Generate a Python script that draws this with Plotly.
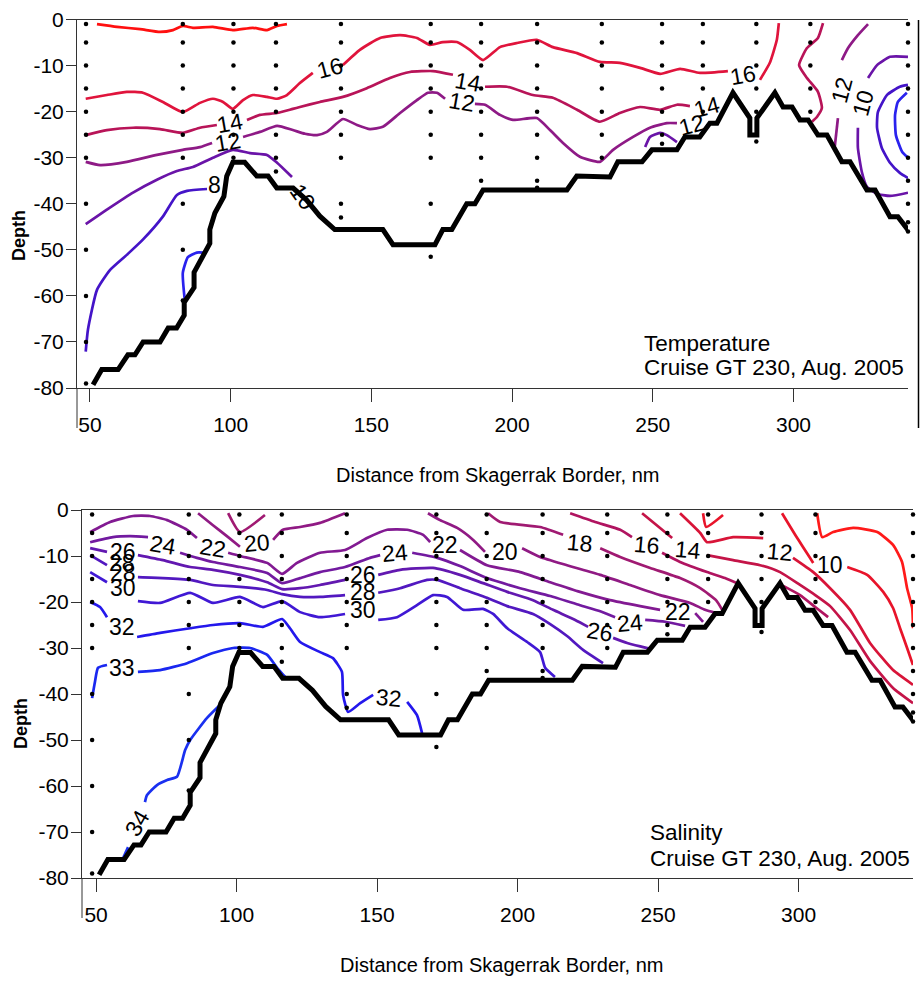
import plotly.graph_objects as go

W, H = 920, 986

# ---------------- data ----------------
x_ticks = [50, 100, 150, 200, 250, 300]
y_ticks = [0, -10, -20, -30, -40, -50, -60, -70, -80]
y_tick_text = ["0", "-10", "-20", "-30", "-40", "-50", "-60", "-70", "-80"]

station_x = [48.6, 83.0, 101.0, 116.1, 139.2, 171.1, 189.0, 208.9, 231.9, 253.3, 267.8, 286.8, 306.0, 340.7]
station_depths = [
    [-1, -5, -10, -15, -20, -25, -30, -40, -50, -60, -70, -79],
    [-1, -5, -10, -15, -20, -25, -30, -40, -50, -61],
    [-1, -5, -10, -15, -20, -25, -30],
    [-1, -5, -10, -15, -20, -25, -30, -33],
    [-1, -5, -10, -15, -20, -25, -30, -40, -43],
    [-1, -5, -10, -15, -20, -25, -30, -40, -51.5],
    [-1, -5, -10, -15, -20, -25, -30, -35],
    [-1, -5, -10, -15, -20, -25, -30, -35, -36.5],
    [-1, -5, -10, -15, -20, -25, -30],
    [-1, -5, -10, -15, -20, -25, -27],
    [-1, -5, -10, -15, -20],
    [-1, -5, -10, -15, -20, -25, -26.5],
    [-1, -5, -10, -15, -20],
    [-1, -5, -10, -15, -20, -25, -30, -35, -40, -44, -46],
]

bathy_x = [51.1, 54.2, 60.0, 63.5, 66.0, 68.9, 74.9, 77.8, 80.8, 83.5, 83.5, 87.0, 87.0, 92.6, 92.6,
           94.4, 97.6, 98.6, 100.8, 105.0, 109.3, 113.3, 116.4, 122.2, 127.0, 131.7, 137.0, 154.1,
           157.7, 172.6, 175.4, 178.6, 183.9, 186.8, 189.7, 219.5, 223.0, 234.8, 237.6, 246.2, 249.7,
           258.6, 261.4, 266.7, 270.3, 272.8, 278.5, 284.5, 284.5, 287.0, 287.0, 293.4, 296.3, 299.5,
           302.3, 305.2, 308.7, 311.9, 317.2, 320.1, 326.1, 329.0, 334.3, 337.1, 340.7]
bathy_y = [-79.3, -76.0, -76.0, -72.8, -72.8, -70.0, -70.0, -67.0, -67.0, -64.2, -61.4, -58.2, -54.9, -48.6, -45.6,
           -42.0, -38.4, -34.0, -31.0, -31.0, -34.0, -34.0, -36.6, -36.6, -39.2, -42.7, -45.6, -45.6,
           -48.9, -48.9, -45.6, -45.6, -40.0, -40.0, -37.0, -37.0, -34.0, -34.2, -30.9, -30.9, -28.3,
           -28.3, -25.5, -25.5, -22.5, -22.5, -15.9, -21.4, -25.1, -25.1, -21.4, -15.9, -19.0, -19.0,
           -21.8, -21.8, -25.1, -25.1, -30.9, -30.9, -37.0, -37.0, -42.8, -42.8, -45.7]

# ---- temperature isolines (distance nm, depth m) ----
temp_18_x = [52.5, 59.6, 67.8, 74.9, 79.5, 83.0, 86.6, 93.7, 100.8, 107.9, 112.9, 116.5, 120.0]
temp_18_y = [-1.0, -1.6, -2.1, -2.7, -2.3, -1.4, -1.8, -1.6, -2.3, -1.8, -2.3, -1.4, -1.0]

temp_16_x = [48.5, 56.0, 63.1, 68.8, 75.9, 83.0, 89.1, 93.7, 97.3, 100.8, 104.4, 107.9, 112.9, 116.5, 120.0, 124.6, 129.2, None,
             139.9, 145.9, 153.1, 160.2, 166.2, 170.8, 175.4, 180.4, 185.0, 189.7, 195.7, 201.7, 208.8, 214.5, 223.1, 231.2,
             238.3, 245.5, 252.6, 259.7, 266.8, 276.7, None,
             288.1, 291.6, 294.1, 294.8]
temp_16_y = [-17.2, -16.4, -15.7, -15.9, -17.9, -20.1, -18.1, -17.2, -17.9, -19.4, -17.5, -16.4, -16.8, -17.2, -16.4, -13.8, -11.6, None,
             -9.9, -6.6, -4.0, -3.4, -4.0, -5.5, -4.9, -4.9, -6.6, -8.8, -6.0, -5.1, -4.4, -6.0, -7.3, -9.2,
             -9.4, -10.5, -11.8, -10.7, -11.6, -11.2, None,
             -13.1, -9.4, -4.4, -0.8]

temp_14_x = [48.5, 56.0, 65.3, 74.9, 83.0, 89.1, 95.1, None,
             105.8, 110.4, 116.5, 122.1, 124.6, 131.7, 139.9, 148.4, 156.6, 163.7, 171.9, 179.0, None,
             190.4, 198.2, 207.4, 214.5, 223.1, 231.2, 238.3, 245.5, 252.6, 258.6, 263.2, None,
             310.5, 308.7, 304.8, 302.0, 304.8, 308.7, 310.1, 308.4, 306.6]
temp_14_y = [-25.1, -24.0, -23.5, -23.8, -24.6, -23.5, -22.9, None,
             -21.8, -20.7, -20.3, -19.4, -19.0, -17.9, -16.8, -14.9, -12.7, -11.4, -11.2, -12.0, None,
             -14.6, -14.6, -16.4, -17.0, -19.6, -22.2, -20.3, -19.0, -19.6, -18.5, -18.8, None,
             -0.8, -4.0, -6.2, -9.9, -12.7, -15.7, -19.2, -21.1, -22.2]

temp_12_x = [48.5, 53.6, 63.1, 73.8, 83.0, 89.1, 93.4, None,
             104.4, 110.4, 116.5, 122.1, 126.4, 130.7, 134.2, 139.9, 144.9, 149.5, 154.1, 160.2, 166.2, 170.1, 173.3, 176.2, None,
             186.8, 190.4, 195.7, 200.3, 208.8, 213.5, 218.1, 224.1, 231.2, 235.9, 243.0, 249.0, 255.0, 258.6, None,
             326.5, 322.9, 319.4, 317.2, None, 315.8, 314.7]
temp_12_y = [-30.9, -31.6, -30.9, -29.4, -28.3, -27.7, -26.8, None,
             -25.5, -24.4, -23.1, -24.0, -24.8, -25.1, -24.4, -21.6, -22.9, -23.8, -23.3, -20.3, -17.5, -15.9, -15.9, -17.2, None,
             -18.3, -18.5, -20.7, -21.8, -21.4, -24.0, -26.8, -29.8, -30.9, -28.3, -25.5, -23.5, -22.5, -22.5, None,
             -1.0, -3.4, -6.2, -8.8, None, -21.4, -27.5]

temp_10_x = [48.5, 56.0, 65.3, 73.8, 80.9, 86.6, 93.7, 100.8, 106.9, 112.9, 116.5, 121.8, None,
             247.3, 249.0, 252.6, 255.0, 258.6, None,
             340.7, 334.3, 329.7, 326.5, None, 322.9, 322.9, 324.3, 326.1, 329.5, 334.3, 340.7]
temp_10_y = [-44.4, -41.3, -37.6, -34.8, -32.9, -32.0, -30.0, -28.3, -29.0, -29.4, -31.1, -34.2, None,
             -27.7, -25.5, -24.6, -25.1, -26.6, None,
             -8.1, -8.1, -9.9, -12.7, None, -23.5, -27.9, -33.1, -36.3, -37.8, -38.3, -37.6]

temp_8_x = [48.5, 49.3, 52.5, 57.1, 63.1, 68.8, 75.9, 80.9, 84.5, 91.6, None,
            340.7, 337.8, 333.2, 330.0, 329.7, 331.4, 334.3, 337.8, 340.7]
temp_8_y = [-72.1, -67.3, -58.7, -54.4, -51.1, -47.8, -42.8, -38.1, -37.2, -36.8, None,
            -14.2, -14.6, -16.4, -20.1, -23.5, -27.9, -31.1, -33.3, -34.4]

temp_6_x = [83.8, 83.0, 84.8, 88.0, 90.2, None, 340.3, 337.1, 336.1, 336.4, 338.6, 340.7]
temp_6_y = [-61.5, -55.0, -51.6, -50.6, -50.6, None, -15.9, -17.9, -20.7, -25.1, -28.7, -30.0]

temp_label_text = ["16", "14", "12", "8", "10", "14", "12", "16", "14", "12", "12", "10"]
temp_label_x = [135.3, 99.8, 99.0, 94.4, 125.7, 184.3, 182.2, 282.1, 269.3, 263.9, 317.2, 324.7]
temp_label_y = [-10.5, -22.5, -26.6, -35.9, -38.5, -13.6, -17.9, -12.0, -19.0, -22.9, -15.3, -18.1]
temp_label_angle = [-15, -10, -10, 0, 55, 10, 10, -10, -15, -15, -75, -75]

# ---- salinity isolines ----
sal_8_x = [306.6, 308.4, 312.3, 319.4, 328.0, 333.6, 336.8, 338.6, 340.4, 340.7]
sal_8_y = [-0.7, -5.9, -4.8, -3.9, -4.8, -7.6, -11.3, -17.0, -21.3, -25.7]

sal_10_x = [294.1, 299.5, 305.2, None, 317.3, 324.4, 330.1, 333.6, 336.1, 338.6, 340.7, None, 266.0, 267.1, 273.1]
sal_10_y = [-0.7, -6.1, -11.5, None, -12.4, -14.1, -17.8, -21.3, -25.7, -30.0, -33.7, None, -0.7, -3.7, -1.1]

sal_12_x = [257.8, 265.0, 267.4, 276.7, 287.4, None, 298.0, 305.2, 311.2, 318.3, 325.4, 333.6, 340.7]
sal_12_y = [-0.7, -5.0, -7.0, -5.9, -6.1, None, -10.4, -13.5, -17.0, -21.7, -28.9, -34.8, -38.0]

sal_14_x = [244.3, 250.7, 255.0, None, 267.4, 276.7, 286.3, 293.4, 300.5, 305.9, 311.2, 318.3, 325.4, 333.6, 340.7]
sal_14_y = [-0.7, -3.9, -6.1, None, -9.8, -10.9, -12.0, -13.5, -16.3, -18.5, -20.9, -26.1, -32.8, -38.7, -42.0]

sal_16_x = [218.7, 227.6, 236.5, 240.7, None, 251.4, 257.8, 267.4, 273.8, 278.1, None, 294.5, 300.5, 305.9, 310.5]
sal_16_y = [-0.7, -2.6, -4.3, -5.9, None, -9.3, -11.3, -13.5, -14.8, -15.9, None, -16.5, -18.5, -21.1, -23.3]

sal_18_x = [189.5, 193.8, 208.0, 216.2, None, 229.4, 236.5, 247.2, 257.8, 265.0, 270.6, 272.8, None, 97.0, 101.2, 110.1]
sal_18_y = [-0.7, -2.6, -3.7, -5.4, None, -8.3, -10.2, -12.6, -14.8, -17.0, -19.6, -21.7, None, -0.7, -4.8, -1.1]

sal_20_x = [86.3, 91.6, 97.0, 101.2, None, 113.0, 116.5, 122.6, 129.7, 138.6, None,
            168.1, 172.4, 178.5, 184.2, 188.4, None, 201.6, 208.0, 217.6, 229.4, 240.0, 250.7, 261.4, 266.7, 270.6]
sal_20_y = [-0.7, -3.3, -5.9, -8.0, None, -6.5, -4.3, -3.7, -2.8, -0.7, None,
            -0.7, -2.2, -3.9, -6.5, -9.1, None, -8.3, -10.2, -12.0, -14.1, -16.3, -18.5, -20.2, -21.7, -22.4]

sal_22_x = [47.9, 55.0, 63.2, 69.2, 75.3, 82.4, 85.9, None,
            97.0, 101.2, 110.9, 116.2, 121.5, 129.7, 138.6, 146.4, 153.6, 160.7, 166.4, 168.9, None,
            179.5, 189.1, 200.9, 211.6, 222.2, 232.9, 243.6, 250.7, None, 263.2, 266.0]
sal_22_y = [-4.8, -2.6, -1.3, -1.3, -2.2, -4.3, -6.1, None,
            -9.3, -10.0, -11.5, -13.9, -11.5, -9.3, -8.7, -6.1, -4.3, -4.3, -5.4, -7.0, None,
            -8.7, -12.0, -13.5, -15.7, -17.8, -19.6, -20.9, -21.7, None, -22.4, -24.3]

sal_24_x = [47.9, 56.0, 62.1, 68.5, None,
            79.9, 85.9, 91.6, 101.2, 110.9, 116.2, 122.6, 129.7, 138.6, 147.5, 151.1, None,
            162.5, 171.4, 179.5, 189.1, 200.9, 211.6, 222.2, 229.4, 234.7, None, 245.4, 252.5, 259.6]
sal_24_y = [-7.0, -5.9, -5.7, -5.9, None,
            -9.3, -10.4, -11.3, -12.4, -13.7, -15.9, -14.8, -13.5, -12.4, -10.4, -9.8, None,
            -9.3, -10.4, -12.2, -14.8, -17.0, -18.7, -20.7, -22.0, -23.3, None, -23.9, -24.3, -25.2]

sal_26_x = [47.9, 53.9, None,
            64.9, 73.8, 83.5, 91.6, 101.2, 110.9, 116.2, 122.6, 129.7, 138.6, None,
            150.4, 158.2, 169.9, 179.5, 187.7, 196.3, 205.5, 212.6, 220.5, 225.1, None,
            234.0, 239.0, 244.7, 247.2]
sal_26_y = [-8.3, -9.1, None,
            -9.8, -10.9, -12.4, -13.0, -14.1, -15.7, -17.2, -17.0, -16.3, -15.2, None,
            -14.1, -13.0, -12.6, -14.1, -15.9, -17.8, -19.6, -21.7, -23.9, -25.4, None,
            -27.8, -28.9, -29.8, -30.2]

sal_28_x = [47.9, 53.9, None,
            64.9, 73.8, 83.5, 91.6, 101.2, 110.9, 116.2, 122.6, 129.7, 138.6, None,
            150.4, 158.2, 167.8, 171.4, 179.5, 189.1, 196.3, 205.5, 211.6, 217.6, 223.3, 230.4]
sal_28_y = [-9.8, -12.0, None,
            -14.6, -14.8, -15.2, -16.3, -16.7, -17.4, -18.3, -18.9, -18.9, -18.5, None,
            -18.0, -17.0, -15.2, -15.2, -17.0, -19.1, -20.9, -22.6, -24.8, -27.4, -30.4, -33.3]

sal_30_x = [47.9, 53.9, None,
            64.9, 72.8, 83.5, 91.6, 101.2, 109.4, 116.2, 122.6, 129.7, 138.6, None,
            150.4, 157.1, 164.2, 169.9, 174.9, 180.6, 187.7, 191.3, 196.3, 203.4, 208.0, 209.8, 213.3]
sal_30_y = [-13.5, -15.7, None,
            -19.8, -20.2, -18.0, -20.2, -18.9, -21.1, -19.8, -22.2, -23.3, -22.6, None,
            -23.9, -23.3, -20.7, -18.5, -18.9, -21.7, -21.5, -22.6, -25.7, -28.7, -30.9, -34.3, -36.3]

sal_32_x = [47.9, 51.4, 53.9, None,
            64.6, 72.8, 83.5, 91.6, 101.2, 109.4, 116.2, 119.0, 122.6, 129.7, 134.3, 137.5, 137.9, 139.7, 144.0, 148.6, None,
            160.7, 164.2, 166.0]
sal_32_y = [-20.0, -21.1, -23.3, None,
            -27.6, -26.7, -25.7, -25.0, -24.6, -25.4, -23.7, -25.7, -28.7, -30.9, -32.2, -35.2, -40.2, -43.9, -42.0, -40.2, None,
            -41.7, -44.6, -48.5]

sal_33_x = [48.6, 49.6, 50.7, 53.9, None, 64.9, 72.8, 82.4, 91.6, 98.8, 104.8, 110.9, 114.4, 117.3]
sal_33_y = [-40.9, -37.4, -34.3, -33.7, None, -35.2, -34.8, -33.3, -31.1, -30.0, -30.0, -31.5, -34.3, -36.3]

sal_34_x = [59.6, 61.4, None, 67.4, 68.1, 71.7, 75.3, 78.8, 81.7, 83.5, 89.5, 94.1]
sal_34_y = [-75.7, -73.3, None, -63.5, -62.0, -59.8, -58.7, -58.0, -52.2, -50.0, -45.2, -42.4]

sal_label_text = ["26", "28", "28", "30", "32", "33", "24", "22", "20", "26", "28", "30", "24", "22", "32",
                  "20", "18", "16", "14", "12", "10", "26", "24", "22", "34"]
sal_label_x = [59.6, 59.3, 59.6, 59.6, 59.3, 59.3, 73.8, 91.6, 107.3, 145.0, 145.0, 145.0, 156.4, 174.2, 154.3,
               195.6, 222.2, 246.1, 260.7, 293.4, 311.2, 229.4, 240.0, 257.1, 64.6]
sal_label_y = [-9.1, -11.5, -13.7, -17.0, -25.4, -34.3, -7.6, -8.3, -7.2, -14.1, -17.8, -21.7, -9.3, -7.6, -40.9,
               -9.1, -7.2, -7.6, -8.7, -9.1, -12.0, -26.5, -24.6, -22.2, -68.0]
sal_label_angle = [0, 0, 0, 0, 0, 0, 10, 10, -5, 0, 0, 0, -5, 0, 5,
                   0, 5, 5, 5, 5, 0, 10, -5, 0, -60]

# ---------------- styling ----------------
SANS = "Liberation Sans, Arial, Helvetica, sans-serif"

temp_series = [
    (temp_18_x, temp_18_y, "#ff1010"),
    (temp_16_x, temp_16_y, "#e0143c"),
    (temp_14_x, temp_14_y, "#b81458"),
    (temp_12_x, temp_12_y, "#8e1a86"),
    (temp_10_x, temp_10_y, "#6a14a8"),
    (temp_8_x, temp_8_y, "#4414c8"),
    (temp_6_x, temp_6_y, "#2a22ee"),
]
sal_series = [
    (sal_8_x, sal_8_y, "#ff1a1a"),
    (sal_10_x, sal_10_y, "#e8142a"),
    (sal_12_x, sal_12_y, "#d81438"),
    (sal_14_x, sal_14_y, "#c41448"),
    (sal_16_x, sal_16_y, "#b01460"),
    (sal_18_x, sal_18_y, "#a01a72"),
    (sal_20_x, sal_20_y, "#901a84"),
    (sal_22_x, sal_22_y, "#821a92"),
    (sal_24_x, sal_24_y, "#721aa0"),
    (sal_26_x, sal_26_y, "#6218b0"),
    (sal_28_x, sal_28_y, "#5218c0"),
    (sal_30_x, sal_30_y, "#4018d4"),
    (sal_32_x, sal_32_y, "#2418ec"),
    (sal_33_x, sal_33_y, "#1a28f0"),
    (sal_34_x, sal_34_y, "#1a30f0"),
]

fig = go.Figure()

panels = [("x", "y", temp_series), ("x2", "y2", sal_series)]
for xa, ya, series in panels:
    for xs, ys, col in series:
        fig.add_trace(go.Scatter(x=xs, y=ys, mode="lines", xaxis=xa, yaxis=ya,
                                 line=dict(color=col, width=2.7, shape="spline", smoothing=0.5),
                                 hoverinfo="skip", showlegend=False))
    fig.add_trace(go.Scatter(x=bathy_x, y=bathy_y, mode="lines", xaxis=xa, yaxis=ya,
                             line=dict(color="black", width=5),
                             hoverinfo="skip", showlegend=False))
    dots_x, dots_y = [], []
    for sx, depths in zip(station_x, station_depths):
        for d in depths:
            dots_x.append(sx)
            dots_y.append(d)
    fig.add_trace(go.Scatter(x=dots_x, y=dots_y, mode="markers", xaxis=xa, yaxis=ya,
                             marker=dict(symbol="circle", size=4.5, color="black"),
                             cliponaxis=False, hoverinfo="skip", showlegend=False))

label_font = dict(family=SANS, size=23, color="black")
annotations = []
for t, lx, ly, ang in zip(temp_label_text, temp_label_x, temp_label_y, temp_label_angle):
    annotations.append(dict(x=lx, y=ly, xref="x", yref="y", text=t, showarrow=False, textangle=ang,
                            font=label_font))
for t, lx, ly, ang in zip(sal_label_text, sal_label_x, sal_label_y, sal_label_angle):
    annotations.append(dict(x=lx, y=ly, xref="x2", yref="y2", text=t, showarrow=False, textangle=ang,
                            font=label_font))


def px(xp, yp):
    return xp / W, 1 - yp / H


def text_at(xp, yp, text, font, xanchor="center", angle=0):
    xx, yy = px(xp, yp)
    annotations.append(dict(x=xx, y=yy, xref="paper", yref="paper", text=text, showarrow=False,
                            xanchor=xanchor, yanchor="middle", textangle=angle, font=font))


title_font = dict(family=SANS, size=20, color="black")
depth_font = dict(family=SANS, size=18, color="black", weight="bold")
note_font = dict(family=SANS, size=22.5, color="black")

text_at(497, 475, "Distance from Skagerrak Border, nm", title_font)
text_at(502, 965, "Distance from Skagerrak Border, nm", title_font)
text_at(19, 236, "Depth", depth_font, angle=-90)
text_at(21, 724, "Depth", depth_font, angle=-90)
text_at(642, 343, "Temperature", note_font, xanchor="left")
text_at(642, 367, "Cruise GT 230, Aug. 2005", note_font, xanchor="left")
text_at(648, 832, "Salinity", note_font, xanchor="left")
text_at(648, 858, "Cruise GT 230, Aug. 2005", note_font, xanchor="left")

shapes = []


def vline(xp, y0p, y1p, color="#333", width=1):
    x0, ya = px(xp, y0p)
    _, yb = px(xp, y1p)
    shapes.append(dict(type="line", xref="paper", yref="paper", x0=x0, x1=x0, y0=ya, y1=yb,
                       line=dict(color=color, width=width)))


vline(77, 388, 428)
vline(82, 878, 918)
vline(918.5, 20, 428, color="black", width=1.5)

axis_font = dict(family=SANS, size=21, color="black")
common_x = dict(showline=True, linecolor="#333", linewidth=1, mirror=True, ticks="outside", ticklen=13,
                tickwidth=1, tickcolor="#333", tickvals=x_ticks, tickfont=axis_font, showgrid=False,
                zeroline=False, automargin=False, ticklabelstandoff=5)
common_y = dict(showline=True, linecolor="#333", linewidth=1, ticks="outside", ticklen=10, tickwidth=1,
                tickcolor="#333", tickvals=y_ticks, ticktext=y_tick_text, tickfont=axis_font,
                showgrid=False, zeroline=False, range=[-80, 0], automargin=False, ticklabelstandoff=-2)

fig.update_layout(
    template="none",
    width=W, height=H, margin=dict(l=0, r=0, t=0, b=0, pad=0, autoexpand=False),
    paper_bgcolor="white", plot_bgcolor="white", showlegend=False,
    xaxis=dict(domain=[77 / W, 908 / W], range=[45.4, 340.7], anchor="y", **common_x),
    yaxis=dict(domain=[1 - 388 / H, 1 - 19.5 / H], anchor="x", **common_y),
    xaxis2=dict(domain=[82 / W, 913 / W], range=[45.0, 340.7], anchor="y2", **common_x),
    yaxis2=dict(domain=[1 - 878 / H, 1 - 510 / H], anchor="x2", **common_y),
    annotations=annotations,
    shapes=shapes,
)

fig.write_html("out.html",
               config={"displayModeBar": False, "staticPlot": True},
               post_script="document.body.style.margin='0';document.body.style.padding='0';"
                           "document.body.style.overflow='hidden';")
